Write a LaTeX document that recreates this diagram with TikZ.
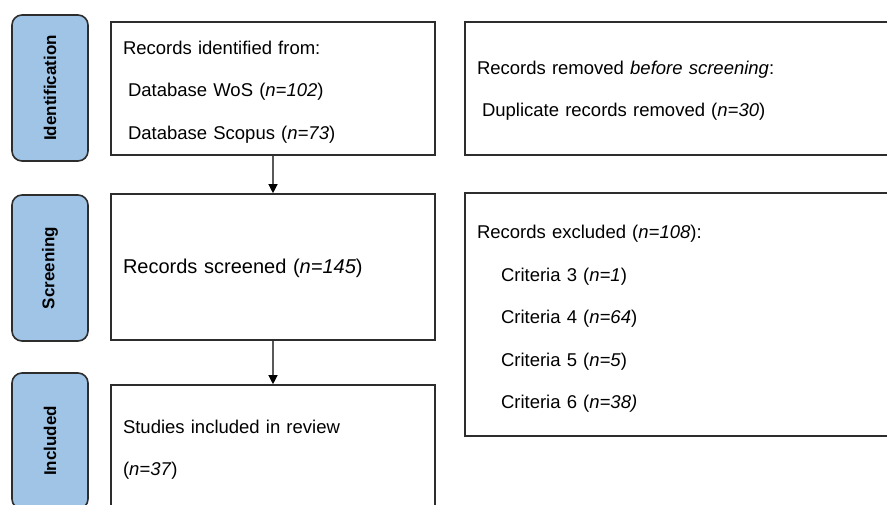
\documentclass[tikz,border=0pt]{standalone}
\usepackage{fontspec}
\setmainfont{Liberation Sans}
\usetikzlibrary{arrows.meta}
\definecolor{stageblue}{RGB}{160,196,230}
\definecolor{boxline}{RGB}{45,45,45}

\begin{document}
\begin{tikzpicture}[x=1pt,y=-1pt,
  stage/.style={draw=boxline,line width=1.6pt,fill=stageblue,rounded corners=10pt,rotate=90,minimum height=76pt,inner sep=0pt,font=\fontsize{17}{20}\selectfont\bfseries},
  recbox/.style={draw=boxline,line width=1.6pt,fill=white,align=left,inner sep=12pt,font=\fontsize{18.5}{42.5}\selectfont},
  flow/.style={draw=gray!70!black,line width=1.2pt,-{Triangle[width=9pt,length=9pt,color=black]}}]
\clip (0,0) rectangle (887,504);
% stages
\node[stage,minimum width=146pt] (idstage) at (50,88) {Identification};
\node[stage,minimum width=146pt] (scrstage) at (50,268) {Screening};
\node[stage,minimum width=136pt] (incstage) at (50,441) {Included};
% records
\node[recbox,minimum width=324pt,minimum height=133pt,text width=300pt] (idrec) at (273,88.5) {\rule{0pt}{20pt}Records identified from:\\
\hspace*{5pt}Database WoS (\textit{n=102})\\
\hspace*{5pt}Database Scopus (\textit{n=73})};
\node[recbox,minimum width=324pt,minimum height=146pt,text width=300pt,font=\fontsize{20}{24}\selectfont] (scrrec) at (273,267) {\rule{0pt}{18pt}Records screened (\textit{n=145})};
\node[recbox,minimum width=324pt,minimum height=125pt,text width=300pt] (increc) at (273,447.5) {\rule{0pt}{18pt}Studies included in review\\
(\textit{n=37})};
% removed / excluded
\node[recbox,minimum width=440pt,minimum height=133pt,text width=416pt] (removed) at (685,88.5) {\rule{0pt}{18pt}Records removed \textit{before screening}:\\
\hspace*{5pt}Duplicate records removed (\textit{n=30})};
\node[recbox,minimum width=440pt,minimum height=243pt,text width=416pt] (excluded) at (685,314.5) {\rule{0pt}{22pt}Records excluded (\textit{n=108}):\\
\hspace*{24pt}Criteria 3 (\textit{n=1})\\
\hspace*{24pt}Criteria 4 (\textit{n=64})\\
\hspace*{24pt}Criteria 5 (\textit{n=5})\\
\hspace*{24pt}Criteria 6 (\textit{n=38)}};
% arrows
\path[flow](idrec) edge (scrrec);
\path[flow](scrrec) edge (increc);
\end{tikzpicture}
\end{document}
